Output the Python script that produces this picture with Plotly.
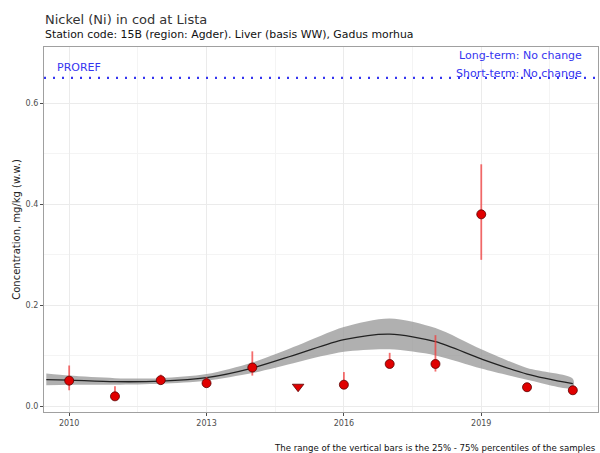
import plotly.graph_objects as go

# Annual medians with 25-75 % percentile ranges
years = [2010, 2011, 2012, 2013, 2014, 2015, 2016, 2017, 2018, 2019, 2020, 2021]
median = [0.051, 0.020, 0.052, 0.046, 0.077, 0.039, 0.043, 0.084, 0.084, 0.380, 0.038, 0.032]
p25 = [0.032, 0.020, 0.044, 0.042, 0.061, 0.039, 0.043, 0.084, 0.069, 0.290, 0.032, 0.030]
p75 = [0.081, 0.040, 0.063, 0.058, 0.109, 0.039, 0.068, 0.106, 0.141, 0.479, 0.042, 0.034]
below_loq = [False, False, False, False, False, True, False, False, False, False, False, False]

# Smoothed trend with confidence band
trend_years = [2009.5, 2010, 2011, 2012, 2013, 2014, 2015, 2016, 2017, 2018, 2019, 2020, 2021]
trend_fit = [0.053, 0.052, 0.049, 0.050, 0.057, 0.076, 0.104, 0.132, 0.143, 0.128, 0.094, 0.064, 0.045]
trend_lo = [0.042, 0.043, 0.043, 0.045, 0.051, 0.066, 0.088, 0.108, 0.113, 0.101, 0.075, 0.053, 0.037]
trend_hi = [0.065, 0.061, 0.056, 0.056, 0.064, 0.087, 0.121, 0.157, 0.174, 0.155, 0.113, 0.076, 0.055]

proref = 0.65

FONT = "DejaVu Sans"
BLUE = "#3535f0"
fig = go.Figure()

# confidence band
fig.add_trace(go.Scatter(
    x=trend_years + trend_years[::-1],
    y=trend_hi + trend_lo[::-1],
    fill="toself", fillcolor="rgba(150,150,150,0.75)",
    line=dict(color="rgba(0,0,0,0)", shape="spline", smoothing=0.8),
    hoverinfo="skip", showlegend=False))
fig.add_trace(go.Scatter(
    x=trend_years, y=trend_fit, mode="lines",
    line=dict(color="#222222", width=1.3, shape="spline", smoothing=0.8),
    showlegend=False))

# percentile bars
for yr, lo, hi in zip(years, p25, p75):
    if hi > lo:
        fig.add_trace(go.Scatter(
            x=[yr, yr], y=[lo, hi], mode="lines",
            line=dict(color="rgba(240,60,60,0.75)", width=1.8),
            showlegend=False, hoverinfo="skip"))

# medians: circles above LOQ, triangles below
fig.add_trace(go.Scatter(
    x=[y for y, b in zip(years, below_loq) if not b],
    y=[m for m, b in zip(median, below_loq) if not b],
    mode="markers",
    marker=dict(symbol="circle", size=9, color="#e00000",
                line=dict(color="#5a0000", width=0.8)),
    showlegend=False))
fig.add_trace(go.Scatter(
    x=[y for y, b in zip(years, below_loq) if b],
    y=[m for m, b in zip(median, below_loq) if b],
    mode="markers",
    marker=dict(symbol="triangle-down", size=10, color="#e00000",
                line=dict(color="#5a0000", width=0.8)),
    showlegend=False))

# PROREF reference line
fig.add_trace(go.Scatter(
    x=[2009.45, 2021.55], y=[proref, proref], mode="lines",
    line=dict(color=BLUE, width=2.4, dash="2px,7px"),
    showlegend=False))

fig.update_layout(
    width=600, height=453,
    margin=dict(l=44, r=2, t=47, b=41),
    paper_bgcolor="white", plot_bgcolor="white",
    font=dict(family=FONT, color="#222222"),
    xaxis=dict(
        range=[2009.45, 2021.55],
        tickvals=[2010, 2013, 2016, 2019],
        ticktext=["2010", "2013", "2016", "2019"],
        tickfont=dict(size=8, color="#4d4d4d"),
        ticks="outside", ticklen=3, tickcolor="#4d4d4d",
        showgrid=True, gridcolor="#ebebeb", gridwidth=1,
        minor=dict(tickvals=[2011.5, 2014.5, 2017.5, 2020.5],
                   showgrid=True, gridcolor="#f4f4f4", gridwidth=0.6),
        zeroline=False, showline=True, linecolor="#a0a0a0", linewidth=1.2,
        mirror=True),
    yaxis=dict(
        range=[-0.011, 0.711],
        tickvals=[0, 0.2, 0.4, 0.6],
        ticktext=["0.0", "0.2", "0.4", "0.6"],
        tickfont=dict(size=8, color="#4d4d4d"),
        ticks="outside", ticklen=3, tickcolor="#4d4d4d",
        showgrid=True, gridcolor="#ebebeb", gridwidth=1,
        minor=dict(tickvals=[0.1, 0.3, 0.5],
                   showgrid=True, gridcolor="#f4f4f4", gridwidth=0.6),
        zeroline=False, showline=True, linecolor="#a0a0a0", linewidth=1.2,
        mirror=True,
        title=dict(text="Concentration, mg/kg (w.w.)",
                   font=dict(size=10, color="#222222"), standoff=3)),
)

PANEL_L, PANEL_W, PANEL_T, PANEL_H = 44, 554, 47, 365


def px_x(x):
    return (x - PANEL_L) / PANEL_W


def px_y(y):
    return 1 + (PANEL_T - y) / PANEL_H


fig.add_annotation(text="Nickel (Ni) in cod at Lista", xref="paper", yref="paper",
                   x=px_x(43), y=px_y(19), xanchor="left", yanchor="middle",
                   showarrow=False, font=dict(family=FONT, size=13, color="#333333"))
fig.add_annotation(text="Station code: 15B (region: Agder). Liver (basis WW), Gadus morhua",
                   xref="paper", yref="paper", x=px_x(43), y=px_y(35),
                   xanchor="left", yanchor="middle", showarrow=False,
                   font=dict(family=FONT, size=10.9, color="#111111"))

fig.add_annotation(text="PROREF", x=2009.68, y=proref, xref="x", yref="y",
                   xanchor="left", yanchor="bottom", yshift=2, showarrow=False,
                   font=dict(family=FONT, size=11, color=BLUE))
fig.add_annotation(text="Long-term: No change", xref="paper", yref="paper",
                   x=px_x(584), y=px_y(55), xanchor="right", yanchor="middle",
                   showarrow=False, font=dict(family=FONT, size=11, color=BLUE))
fig.add_annotation(text="Short-term: No change", xref="paper", yref="paper",
                   x=px_x(584), y=px_y(73), xanchor="right", yanchor="middle",
                   showarrow=False, font=dict(family=FONT, size=11, color=BLUE))
fig.add_annotation(text="The range of the vertical bars is the 25% - 75% percentiles of the samples",
                   xref="paper", yref="paper", x=px_x(598), y=px_y(448),
                   xanchor="right", yanchor="middle", showarrow=False,
                   font=dict(family=FONT, size=8.6, color="#111111"))

fig.write_html("out.html")
